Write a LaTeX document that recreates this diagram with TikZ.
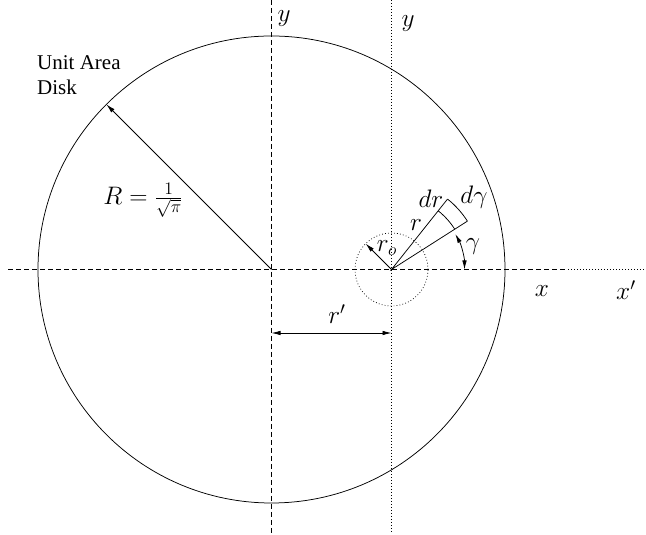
\documentclass[tikz,border=0pt]{standalone}
\usepackage[no-math]{fontspec}
\setmainfont{Liberation Serif}
\usetikzlibrary{arrows.meta,calc}
\begin{document}
\begin{tikzpicture}[x=1pt,y=1pt,
  lbl/.style={font=\fontsize{21}{25}\selectfont, inner sep=0pt},
  mlbl/.style={font=\fontsize{21}{25}\selectfont, inner sep=0pt, scale=1.22, transform shape},
  solidline/.style={line width=0.75pt},
  axisdash/.style={line width=0.7pt, dash pattern=on 5pt off 3pt},
  axisdot/.style={line width=0.7pt, dash pattern=on 0.8pt off 2.2pt},
  >={Latex[length=9pt,width=4.5pt]}]
\useasboundingbox (0,0) rectangle (646,535);
% reference points
\coordinate (O) at (271.5,265.5);
\coordinate (P) at (391.5,265.5);
\coordinate (Lft) at (8,265.5);
\coordinate (Mid) at (568,265.5);
\coordinate (Rgt) at (646,265.5);
\coordinate (Top1) at (271.5,535);
\coordinate (Bot1) at (271.5,0);
\coordinate (Top2) at (391.5,535);
\coordinate (Bot2) at (391.5,3);
% axes
\draw[axisdash] (Lft) -- (Mid);
\draw[axisdot] (Mid) -- (Rgt);
\draw[axisdash] (Top1) -- (Bot1);
\draw[axisdot] (Top2) -- (Bot2);
% unit disk
\node[draw, circle, solidline, minimum size=467pt, inner sep=0pt, outer sep=0pt] (disk) at (O) {};
\draw[solidline,->] (O) -- (disk.135);
% small dotted circle
\node[draw, circle, axisdot, minimum size=73pt, inner sep=0pt, outer sep=0pt] (ro) at (P) {};
\draw[solidline,->] (P) -- (ro.135);
% wedge
\coordinate (W1) at ($(P)+(32.5:90)$);
\coordinate (W2) at ($(P)+(51.5:90)$);
\coordinate (V1) at ($(P)+(32.5:75)$);
\coordinate (G0) at ($(P)+(0:73)$);
\draw[solidline] (W1) -- (P) -- (W2);
\draw[solidline] (W1) arc[start angle=32.5, end angle=51.5, radius=90];
\draw[solidline] (V1) arc[start angle=32.5, end angle=51.5, radius=75];
\draw[solidline,<->] (G0) arc[start angle=0, end angle=29, radius=73];
% r' dimension
\coordinate (D1) at (271.5,202);
\coordinate (D2) at (391.5,202);
\draw[solidline,<->] (D1) -- (D2);
% labels
\node[mlbl] (ly1) at (284,516) {$y$};
\node[mlbl] (ly2) at (408,511) {$y$};
\node[mlbl] (lx) at (542,244) {$x$};
\node[mlbl] (lxp) at (626,245) {$x'$};
\node[lbl, anchor=base west] (lunit) at (37,465) {Unit Area};
\node[lbl, anchor=base west] (ldisk) at (37,440) {Disk};
\node[mlbl] (lR) at (143,335) {$R=\frac{1}{\sqrt{\pi}}$};
\node[mlbl] (lrp) at (337,221) {$r'$};
\node[mlbl] (lro) at (387,287) {$r_o$};
\node[mlbl] (lr) at (416,310) {$r$};
\node[mlbl] (ldr) at (431,336) {$dr$};
\node[mlbl] (ldg) at (474,338) {$d\gamma$};
\node[mlbl] (lg) at (473,288) {$\gamma$};
\end{tikzpicture}
\end{document}
